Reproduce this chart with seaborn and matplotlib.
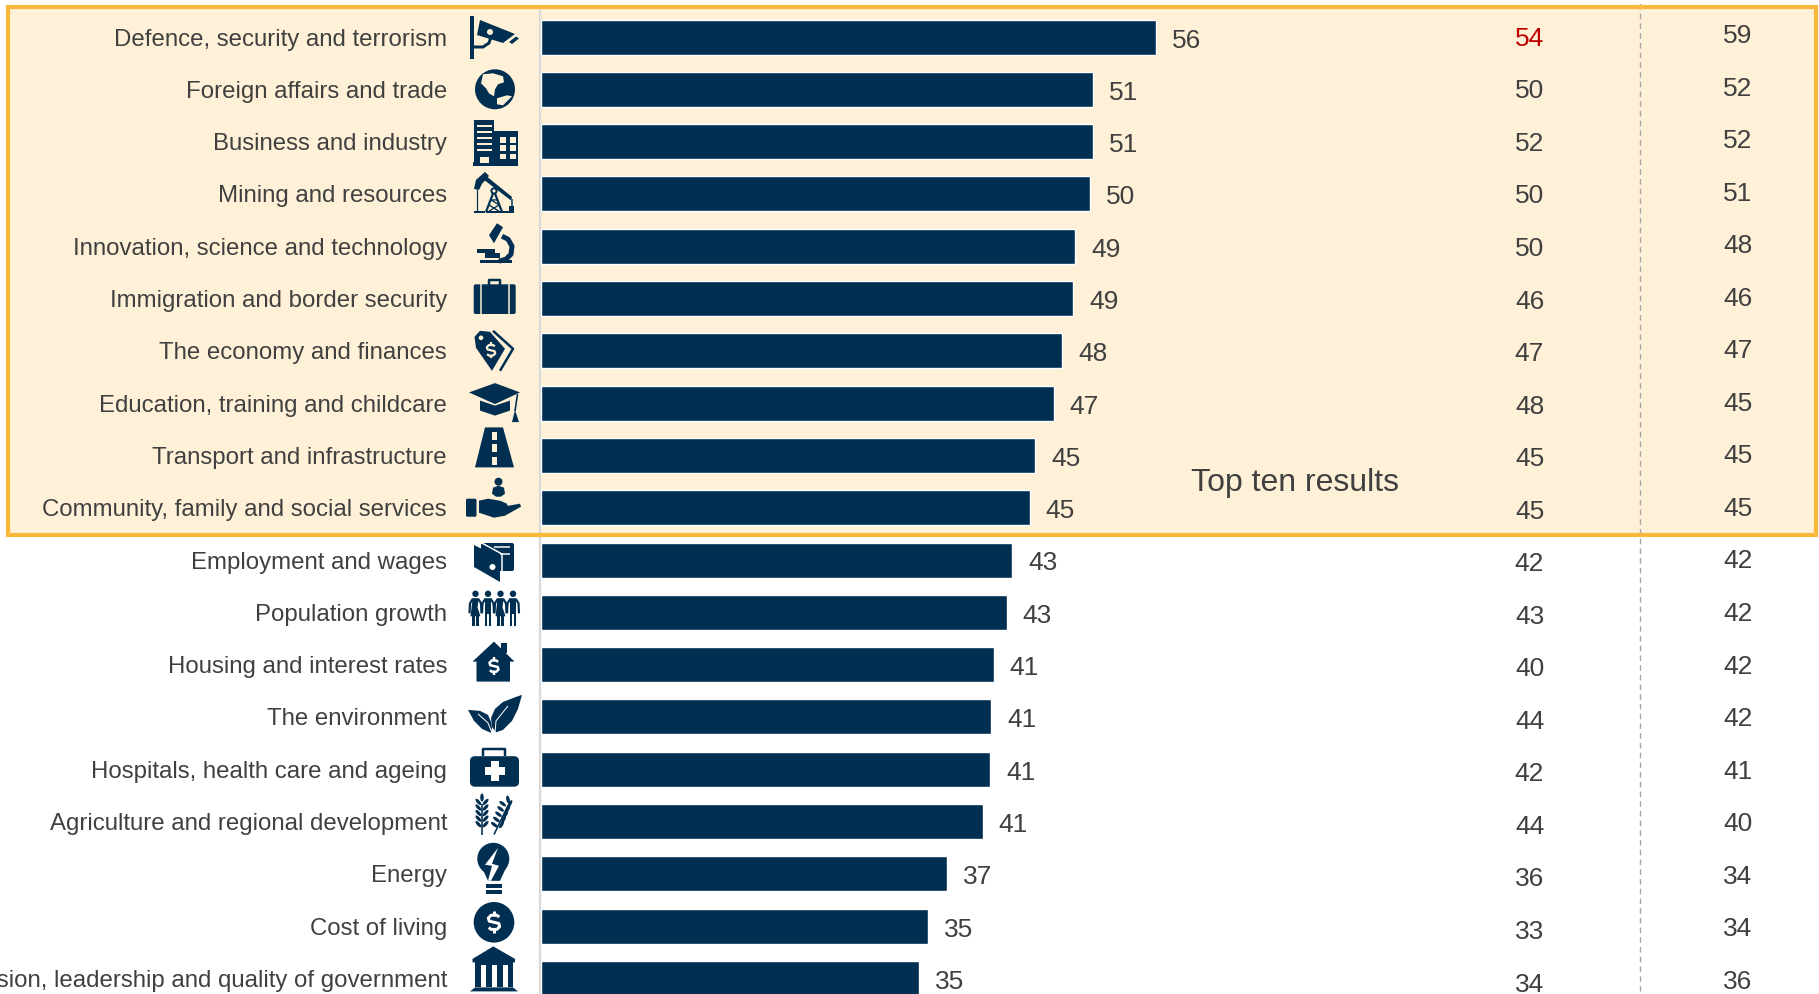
import matplotlib
matplotlib.use("Agg")
import matplotlib.pyplot as plt
import seaborn as sns
from matplotlib.patches import Circle, Polygon, Rectangle, FancyBboxPatch, Ellipse
from matplotlib.transforms import Affine2D

# Values
categories = [
    "Defence, security and terrorism", "Foreign affairs and trade", "Business and industry",
    "Mining and resources", "Innovation, science and technology", "Immigration and border security",
    "The economy and finances", "Education, training and childcare", "Transport and infrastructure",
    "Community, family and social services", "Employment and wages", "Population growth",
    "Housing and interest rates", "The environment", "Hospitals, health care and ageing",
    "Agriculture and regional development", "Energy", "Cost of living",
    "Political vision, leadership and quality of government",
]
bar_values = [56.4, 50.6, 50.6, 50.3, 49.0, 48.8, 47.8, 47.0, 45.3, 44.8,
              43.2, 42.7, 41.5, 41.3, 41.2, 40.5, 37.2, 35.5, 34.7]
bar_labels = [56, 51, 51, 50, 49, 49, 48, 47, 45, 45, 43, 43, 41, 41, 41, 41, 37, 35, 35]
middle_col = [54, 50, 52, 50, 50, 46, 47, 48, 45, 45, 42, 43, 40, 44, 42, 44, 36, 33, 34]
right_col = [59, 52, 52, 51, 48, 46, 47, 45, 45, 45, 42, 42, 42, 42, 41, 40, 34, 34, 36]

W, H = 1819, 995
NAVY = "#002F52"
CREAM = "#FEF1D7"
ORANGE = "#F9B83C"
TEXT = "#404040"
FS = 17.3
NUM_FS = 19

X_UNIT = 10.905   # pixels per value
ROW = 52.3        # pixels per row
X0 = 541
Y0 = 38


def row_y(i):
    return Y0 + ROW * i


sns.set_theme(style="white")
plt.rcParams["font.family"] = ["Liberation Sans", "DejaVu Sans"]

fig = plt.figure(figsize=(W / 100, H / 100), dpi=100)
fig.patch.set_facecolor("white")
ax = fig.add_axes([0, 0, 1, 1])
ax.patch.set_visible(False)

px = Affine2D().scale(1 / W, -1 / H).translate(0, 1) + fig.transFigure

# highlighted block behind the top ten rows
fig.add_artist(Rectangle((8, 8), 1808, 528, transform=px, fc=CREAM, ec="none", zorder=-2))
fig.add_artist(Rectangle((8, 8), 1808, 528, transform=px, fc="none", ec=ORANGE, lw=3, zorder=5))

sns.barplot(x=bar_values, y=categories, color=NAVY, saturation=1, width=35 / ROW,
            orient="h", ax=ax, zorder=3)
ax.set_xlim(-X0 / X_UNIT, (W - X0) / X_UNIT)
ax.set_ylim((H - Y0) / ROW, -Y0 / ROW)
sns.despine(ax=ax, left=True, bottom=True)
ax.set_xticks([])
ax.tick_params(axis="y", length=0, pad=0)
ax.set_yticks(range(len(categories)))
ax.set_yticklabels([])

# category labels sit left of the icon column
for i, cat in enumerate(categories):
    ax.text((447 - X0) / X_UNIT, i + 0.03, cat, ha="right", va="center", color=TEXT, fontsize=FS)

value_texts = ax.bar_label(ax.containers[0], labels=[str(v) for v in bar_labels], padding=11,
                           color=TEXT, fontsize=NUM_FS)
for t in value_texts:
    t.xyann = (11.5, -1.8)

ax.axvline(-0.1, ymax=1 - 10 / H, color="#D9D9D9", lw=1.6, zorder=1)
ax.axvline((1640 - X0) / X_UNIT, ymax=1, ymin=3 / H, color="#A6A6A6", lw=1, ls=(0, (4, 3)), zorder=1)

# the two result columns drift a few pixels down the page in the original
for i, (m, r) in enumerate(zip(middle_col, right_col)):
    ax.text((1529.5 - X0) / X_UNIT, i + (0.8 + 0.24 * i) / ROW, str(m), ha="center", va="center",
            fontsize=NUM_FS, color="#C00000" if i == 0 else TEXT)
    ax.text((1738 - X0) / X_UNIT, i + (-1.9 + 0.24 * i) / ROW, str(r), ha="center", va="center",
            fontsize=NUM_FS, color=TEXT)

ax.text((1295 - X0) / X_UNIT, (483 - Y0) / ROW, "Top ten results", ha="center", va="center",
        color=TEXT, fontsize=23)


# ---- icons, drawn in pixels around each row centre ----
class Icon:
    def __init__(self, row, cx=494):
        self.cy = row_y(row)
        self.cx = cx
        self.bg = CREAM if row < 10 else "white"

    def tf(self):
        return Affine2D().translate(self.cx, self.cy) + px

    def poly(self, pts, c=None):
        fig.add_artist(Polygon(pts, closed=True, fc=c or NAVY, ec="none", transform=self.tf(), zorder=2))

    def rect(self, x0, y0, x1, y1, c=None):
        fig.add_artist(Rectangle((x0, y0), x1 - x0, y1 - y0, fc=c or NAVY, ec="none", transform=self.tf(), zorder=2))

    def rrect(self, x0, y0, x1, y1, r=2, c=None):
        fig.add_artist(FancyBboxPatch((x0 + r, y0 + r), x1 - x0 - 2 * r, y1 - y0 - 2 * r,
                                      boxstyle=f"round,pad={r},rounding_size={r}", fc=c or NAVY,
                                      ec="none", transform=self.tf(), zorder=2))

    def circ(self, x, y, r, c=None):
        fig.add_artist(Circle((x, y), r, fc=c or NAVY, ec="none", transform=self.tf(), zorder=2))

    def ell(self, x, y, w, h, ang=0, c=None):
        fig.add_artist(Ellipse((x, y), w, h, angle=ang, fc=c or NAVY, ec="none", transform=self.tf(), zorder=2))

    def line(self, pts, w=2, c=None):
        xs, ys = zip(*pts)
        ln = plt.Line2D(xs, ys, color=c or NAVY, lw=w * 0.72, transform=self.tf(), zorder=2,
                        solid_capstyle="butt", solid_joinstyle="round")
        fig.add_artist(ln)

    def dollar(self, x, y, s, w, c=None):
        pts = [(0.55, -0.55), (0.3, -0.75), (-0.3, -0.75), (-0.6, -0.45), (-0.5, -0.12), (0, 0),
               (0.5, 0.12), (0.6, 0.45), (0.3, 0.75), (-0.3, 0.75), (-0.55, 0.55)]
        self.line([(x + a * s, y + b * s) for a, b in pts], w, c or self.bg)
        self.line([(x, y - 1.15 * s), (x, y - 0.7 * s)], w, c or self.bg)
        self.line([(x, y + 0.7 * s), (x, y + 1.15 * s)], w, c or self.bg)


# camera
ic = Icon(0)
ic.rect(-24, -21, -20.5, 22)
ic.poly([(-14, -17), (21, -3), (9, 6), (-17, -2)])
ic.poly([(15, 5), (22, -0.5), (25, 1.5), (18, 7)])
ic.line([(-21, 10), (-11, 10), (-5, 6), (-3, 0)], 3)
ic.circ(-4, -5, 3, ic.bg)

# globe
ic = Icon(1, 495)
ic.circ(0, 0, 20)
ic.poly([(-12, -15), (-2, -16), (8, -13), (9, -7), (3, -5), (0, 0), (-1, 7), (-6, 4), (-9, -1), (-14, -6)], ic.bg)
ic.poly([(2, 9), (12, 6), (17, 7), (8, 16), (2, 15)], ic.bg)

# building
ic = Icon(2)
ic.rect(-19.7, -22, 0.3, 21)
ic.rect(0.3, -10.3, 23.7, 24.7)
ic.rect(-21, 20.7, 23.7, 24.7)
for y in (-15.5, -9.5, -3.5, 2.5, 8.5):
    ic.rect(-17, y - 1.3, -2.5, y + 1.3, ic.bg)
ic.rect(-14, 15.5, -5, 21, ic.bg)
for x in (6, 15.5):
    for y in (-4.5, 3.5, 12):
        ic.rect(x, y, x + 6, y + 5.5, ic.bg)

# pump jack
ic = Icon(3)
ic.poly([(-8, -18), (18, 3), (17, 6.5), (-10, -14)])
ic.poly([(-20, -5), (-18, -14), (-9, -22), (-5, -18), (-12, -10), (-15, -4)])
ic.line([(-17.5, -5), (-17.5, 18)], 1.2)
ic.line([(0, -3), (-8, 18)], 2.2)
ic.line([(0, -3), (8, 18)], 2.2)
ic.line([(-5, 11), (6, 18), (-6, 18), (5, 11), (-3, 6), (3, 6)], 1.3)
ic.circ(0, -3, 3.6)
ic.circ(0, -3, 1.6, ic.bg)
ic.line([(-20, 18.5), (-9, 18.5)], 2)
ic.line([(-8, 18.5), (20, 18.5)], 2)
ic.rect(14.5, 12.5, 20, 18.5)
ic.line([(17.5, 5), (17.5, 13)], 1.5)

# microscope
ic = Icon(4)
ic.poly([(-5, -11), (3, -23), (9, -19), (0, -3)])
ic.line([(8, -10), (14, -7), (18, 0), (17, 8), (12, 13), (5, 15)], 5)
ic.rect(-17, 3, 1, 7)
ic.rect(-9, 7, 6, 12)
ic.rect(-14, 13.5, 18, 16.5)

# briefcase
ic = Icon(5)
ic.rrect(-20.3, -14.2, 21.7, 15.5, 2)
ic.line([(-13.5, -14.5), (-13.5, 16)], 1.5, ic.bg)
ic.line([(15, -14.5), (15, 16)], 1.5, ic.bg)
ic.line([(-5.5, -14), (-5.5, -18.5), (6, -18.5), (6, -14)], 2.5)

# price tag
ic = Icon(6)
ic.poly([(-19.5, -14), (-14, -20), (-4, -19), (11, -2), (-2, 20), (-18, -3)])
ic.line([(-1, -20), (19, -2), (6, 20)], 2.5)
ic.circ(-13, -13, 2.3, ic.bg)
ic.dollar(-3, -0.5, 7, 2.2)

# mortarboard
ic = Icon(7)
ic.poly([(-25, -10.7), (1, -20), (26, -10.7), (1, 1)])
ic.poly([(-14, -2.5), (1, 2.5), (16, -2.5), (16, 7.5), (1, 12.5), (-14, 7.5)])
ic.line([(23.5, -9), (21, 8)], 1.6)
ic.poly([(18, 19), (25, 19), (21, 7)])

# road
ic = Icon(8)
ic.poly([(-9, -28), (9, -28), (20, 12), (-19, 12)])
for a, b in ((-23, -15), (-11, -3), (2, 10)):
    ic.rect(-2.5, a, 2.5, b, ic.bg)

# hand holding a person
ic = Icon(9)
ic.circ(4.5, -26, 4)
ic.poly([(-2, -14), (-1, -20), (4.5, -22), (10, -20), (11, -14), (7, -11), (2, -11)])
ic.rrect(-28, -9, -17.5, 9, 1.5)
ic.poly([(-15, -7), (-6, -9), (6, -7), (13, -4), (14, 0), (3, 0), (26, -4), (27, -1), (11, 8), (0, 10), (-15, 5)])

# wallet
ic = Icon(10)
ic.rrect(-13, -17, 20, 11, 2)
ic.poly([(-20, -15), (6, -2), (6, 22), (-20, 7)])
ic.line([(-14, -18), (8, -6), (8, 22)], 1.5, ic.bg)
ic.line([(0, -13), (16, -13)], 1.5, ic.bg)
ic.line([(6, -6), (16, -6)], 1.5, ic.bg)
ic.circ(-1.5, 7, 3, ic.bg)

# people
ic = Icon(11)
for n, x in enumerate((-18.5, -6, 6.5, 19)):
    ic.circ(x, -18.5, 3.2)
    ic.line([(x - 6, 1), (x - 5.5, -9), (x - 3, -13), (x + 3, -13), (x + 5.5, -9), (x + 6, 1)], 2.2)
    if n % 2 == 0:
        ic.poly([(x - 3, -13), (x + 3, -13), (x + 2, -5), (x + 5, 4), (x - 5, 4)])
    else:
        ic.rect(x - 3.4, -13, x + 3.4, 2)
    ic.rect(x - 3.2, 0, x - 0.7, 13.5)
    ic.rect(x + 0.7, 0, x + 3.2, 13.5)

# house
ic = Icon(12)
ic.poly([(-21.5, -3), (0, -23), (20.5, -3), (16, -3), (16, 17), (-17.5, 17), (-17.5, -3)])
ic.rect(7, -22, 13, -12)
ic.dollar(0, 1.5, 7.5, 2.5)

# leaves
ic = Icon(13)
ic.poly([(2, 15.5), (-2, 10), (-3, 1), (1, -8), (9, -15), (22, -20), (28, -22), (24, -8), (18, 4), (9, 13)])
ic.poly([(-3, 16), (-12, 12), (-20, 4), (-26, -7), (-14, -6), (-6, -2), (-3, 5), (-2, 11)])
ic.line([(1, 16), (2, 4), (14, -11)], 1, ic.bg)
ic.line([(-2, 16), (-6, 6), (-16, -3)], 1, ic.bg)

# medical kit
ic = Icon(14)
ic.rrect(-24, -13, 25, 17.5, 5)
ic.line([(-11, -13), (-11, -20), (11, -20), (11, -13)], 2.5)
ic.rect(-3.5, -8, 5, 12, ic.bg)
ic.rect(-9, -2, 10.5, 6, ic.bg)

# wheat
ic = Icon(15)
for x0, y0, x1, y1 in ((-12, -24, -12, 13), (14, -22, 0, 13)):
    ic.line([(x0, y0 + 6), (x1, y1)], 1.6)
    ic.ell(x0, y0, 3.5, 8, ang=(x1 - x0) * 0.8)
    dx, dy = x1 - x0, y1 - y0
    for t in (0.12, 0.27, 0.42, 0.57, 0.72):
        x, y = x0 + dx * t, y0 + dy * t
        ic.ell(x - 3.6, y, 3.2, 8, ang=-42 + dx * 0.8)
        ic.ell(x + 3.6, y, 3.2, 8, ang=42 + dx * 0.8)

# light bulb
ic = Icon(16)
ic.circ(-0.7, -15, 16)
ic.poly([(-12, -6), (-6, 7), (6, 7), (12, -6)])
ic.rect(-8, 10, 8, 14)
ic.rect(-8, 16, 8, 20)
ic.poly([(4, -26), (-9, -9), (-2, -8), (-6, 7), (-3, 7), (5, -8), (-2, -10)], ic.bg)

# coin
ic = Icon(17)
ic.circ(0, -3.8, 20.3)
ic.dollar(0, -3.8, 9.5, 3)

# parliament building
ic = Icon(18)
ic.poly([(-0.7, -32), (21, -19.5), (21, -16), (-21.5, -16), (-21.5, -19.5)])
ic.rect(-19, -17, 19, 9)
ic.poly([(-19, 9), (19, 9), (24, 13), (-24, 13)])
for x in (-13, -2.5, 8.5):
    ic.rect(x, -13, x + 5, 9, "white")

fig.savefig("out.png", dpi=100)
